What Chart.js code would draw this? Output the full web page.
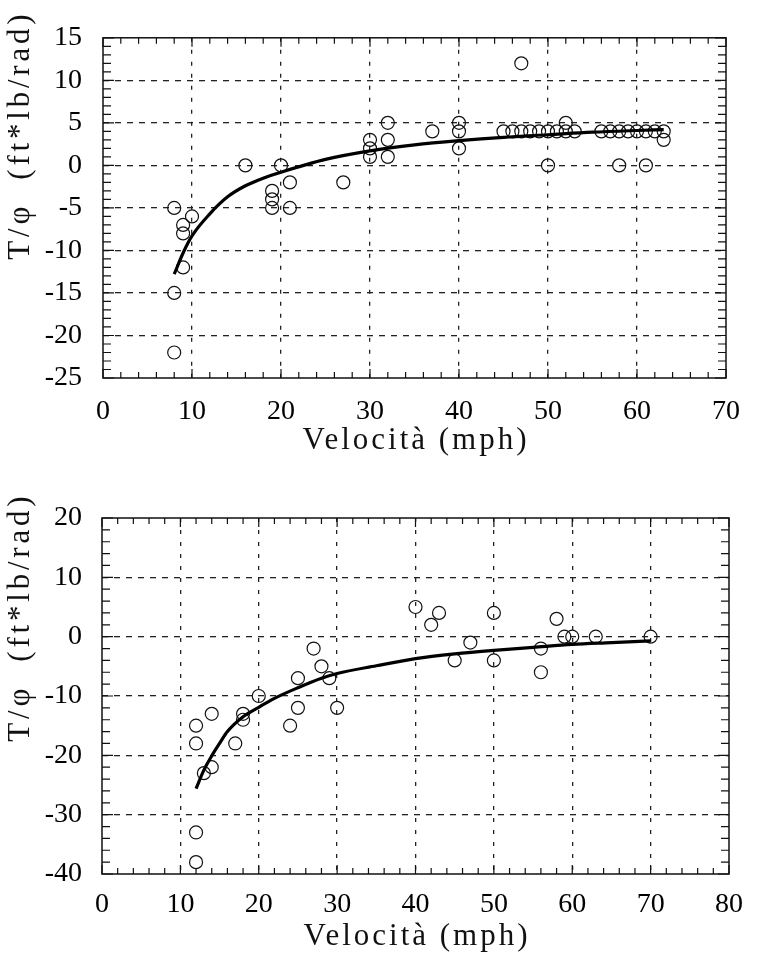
<!DOCTYPE html>
<html>
<head>
<meta charset="utf-8">
<script src="https://cdn.jsdelivr.net/npm/chart.js@4.4.1/dist/chart.umd.min.js"></script>
<style>
  html, body { margin: 0; padding: 0; background: #fff; }
  .box { position: absolute; left: 0; width: 757px; }
  #b1 { top: 0; height: 478px; }
  #b2 { top: 478px; height: 479px; }
</style>
</head>
<body>
<div class="box" id="b1"><canvas id="c1"></canvas></div>
<div class="box" id="b2"><canvas id="c2"></canvas></div>
<script>
// ---------- data: top chart ----------
const topPointsX = [8, 8, 8, 9, 9, 9, 10, 16, 19, 19, 19, 20, 21, 21, 27, 30, 30, 30, 32, 32, 32, 37, 40, 40, 40,
  45, 46, 47, 47, 48, 49, 50, 50, 51, 52, 52, 53, 56, 57, 58, 58, 59, 60, 61, 61, 62, 63, 63];
const topPointsY = [-5, -15, -22, -7, -8, -12, -6, 0, -3, -4, -5, 0, -2, -5, -2, 3, 2, 1, 5, 3, 1, 4, 5, 4, 2,
  4, 4, 4, 12, 4, 4, 4, 0, 4, 4, 5, 4, 4, 4, 4, 0, 4, 4, 4, 0, 4, 4, 3];
const topCurveX = [8, 9, 10, 12, 14, 16, 18, 20, 25, 30, 35, 40, 45, 50, 55, 60, 63];
const topCurveY = [-12.8, -10.3, -8.3, -5.7, -3.7, -2.4, -1.5, -0.8, 0.7, 1.7, 2.4, 2.9, 3.3, 3.6, 3.9, 4.1, 4.2];
const topXTicks = [0, 10, 20, 30, 40, 50, 60, 70];
const topYTicks = [-25, -20, -15, -10, -5, 0, 5, 10, 15];

// ---------- data: bottom chart ----------
const botPointsX = [12, 12, 12, 12, 13, 14, 14, 17, 18, 18, 20, 24, 25, 25, 27, 28, 29, 30,
  40, 42, 43, 45, 47, 50, 50, 56, 56, 58, 59, 60, 63, 70];
const botPointsY = [-15, -18, -33, -38, -23, -13, -22, -18, -13, -14, -10, -15, -7, -12, -2, -5, -7, -12,
  5, 2, 4, -4, -1, 4, -4, -2, -6, 3, 0, 0, 0, 0];
const botCurveX = [12, 13, 14, 15, 16, 18, 20, 22, 25, 28, 30, 35, 40, 45, 50, 55, 60, 65, 70];
const botCurveY = [-25.6, -22.5, -20.1, -18, -16, -13.5, -11.9, -10.4, -8.6, -7.0, -6.2, -4.9, -3.7, -2.9, -2.3, -1.8, -1.3, -1.0, -0.7];
const botXTicks = [0, 10, 20, 30, 40, 50, 60, 70, 80];
const botYTicks = [-40, -30, -20, -10, 0, 10, 20];

const xTitleText = 'Velocità (mph)';
const yTitleText = 'T/φ  (ft*lb/rad)';

const FONT = "'Liberation Serif', 'Times New Roman', serif";
const INK = '#111';

const zip = (xs, ys) => xs.map((x, i) => ({ x, y: ys[i] }));

const framePlugin = {
  id: 'frame',
  afterDraw(chart, args, o) {
    const { ctx, chartArea: a, scales } = chart;
    const sx = scales.x, sy = scales.y;
    ctx.save();
    ctx.strokeStyle = INK;
    ctx.lineWidth = 1.5;
    ctx.setLineDash([]);
    ctx.strokeRect(a.left, a.top, a.right - a.left, a.bottom - a.top);
    ctx.lineWidth = 1.2;
    const nx = Math.round((sx.max - sx.min) / o.xMinor);
    for (let i = 0; i <= nx; i++) {
      const v = sx.min + i * o.xMinor;
      const p = sx.getPixelForValue(v);
      const major = Math.abs(v / o.xMajor - Math.round(v / o.xMajor)) < 1e-6;
      const len = major ? o.majorLen : o.minorLen;
      ctx.beginPath();
      ctx.moveTo(p, a.bottom); ctx.lineTo(p, a.bottom - len);
      ctx.moveTo(p, a.top); ctx.lineTo(p, a.top + len);
      ctx.stroke();
    }
    const ny = Math.round((sy.max - sy.min) / o.yMinor);
    for (let i = 0; i <= ny; i++) {
      const v = sy.min + i * o.yMinor;
      const p = sy.getPixelForValue(v);
      const major = Math.abs(v / o.yMajor - Math.round(v / o.yMajor)) < 1e-6;
      const len = major ? o.majorLen + 2 : o.minorLen + 2;
      ctx.beginPath();
      ctx.moveTo(a.left, p); ctx.lineTo(a.left + len, p);
      ctx.moveTo(a.right, p); ctx.lineTo(a.right - len, p);
      ctx.stroke();
    }
    ctx.fillStyle = INK;
    ctx.font = o.titleSize + 'px ' + FONT;
    ctx.letterSpacing = o.xSpacing + 'px';
    ctx.textAlign = 'center';
    ctx.textBaseline = 'alphabetic';
    ctx.fillText(o.xTitle, (a.left + a.right) / 2 + o.xSpacing / 2, o.xTitleBaseline);
    ctx.letterSpacing = o.ySpacing + 'px';
    ctx.translate(o.yTitleBaselineX, o.yTitleCenterY);
    ctx.rotate(-Math.PI / 2);
    ctx.fillText(o.yTitle, o.ySpacing / 2, 0);
    ctx.restore();
  }
};

function makeChart(id, cfg) {
  return new Chart(document.getElementById(id), {
    type: 'scatter',
    data: {
      datasets: [
        {
          label: 'dati',
          data: zip(cfg.px, cfg.py),
          pointStyle: 'circle',
          pointRadius: 6.5,
          pointHoverRadius: 6.5,
          pointBorderWidth: 1.2,
          pointBackgroundColor: 'rgba(0,0,0,0)',
          pointBorderColor: INK,
          showLine: false,
          order: 2
        },
        {
          label: 'fit',
          data: zip(cfg.cx, cfg.cy),
          showLine: true,
          pointRadius: 0,
          borderColor: '#000',
          borderWidth: 3.2,
          cubicInterpolationMode: 'monotone',
          fill: false,
          order: 1
        }
      ]
    },
    options: {
      responsive: true,
      maintainAspectRatio: false,
      animation: false,
      events: [],
      layout: { padding: { top: cfg.padTop, right: cfg.padRight, left: 0, bottom: 0 } },
      plugins: {
        legend: { display: false },
        tooltip: { enabled: false },
        frame: {
          xMinor: 2, xMajor: 10, yMinor: cfg.yMinor, yMajor: cfg.yMajor,
          minorLen: 6, majorLen: 9,
          xTitle: xTitleText, yTitle: yTitleText,
          titleSize: 31, xSpacing: 3, ySpacing: 3.8,
          xTitleBaseline: cfg.xTitleBaseline,
          yTitleBaselineX: 29, yTitleCenterY: cfg.yTitleCenterY
        }
      },
      scales: {
        x: {
          type: 'linear',
          min: cfg.xTicks[0], max: cfg.xTicks[cfg.xTicks.length - 1],
          afterBuildTicks: (s) => { s.ticks = cfg.xTicks.map(v => ({ value: v })); },
          afterFit: (s) => { s.height = cfg.xAxisH; },
          grid: {
            color: (c) => (c.tick && (c.tick.value === cfg.xTicks[0] || c.tick.value === cfg.xTicks[cfg.xTicks.length - 1])) ? 'rgba(0,0,0,0)' : '#222',
            lineWidth: 1.3,
            drawTicks: false
          },
          border: { display: false, dash: [4, 8] },
          ticks: {
            color: '#000',
            font: { family: FONT, size: 28 },
            padding: cfg.xTickPad,
            maxRotation: 0,
            autoSkip: false
          }
        },
        y: {
          type: 'linear',
          min: cfg.yTicks[0], max: cfg.yTicks[cfg.yTicks.length - 1],
          afterBuildTicks: (s) => { s.ticks = cfg.yTicks.map(v => ({ value: v })); },
          afterFit: (s) => { s.width = cfg.yAxisW; },
          grid: {
            color: (c) => (c.tick && (c.tick.value === cfg.yTicks[0] || c.tick.value === cfg.yTicks[cfg.yTicks.length - 1])) ? 'rgba(0,0,0,0)' : '#222',
            lineWidth: 1.3,
            drawTicks: false
          },
          border: { display: false, dash: [6, 6] },
          ticks: {
            color: '#000',
            font: { family: FONT, size: 28 },
            padding: cfg.yTickPad,
            autoSkip: false
          }
        }
      }
    },
    plugins: [framePlugin]
  });
}

makeChart('c1', {
  px: topPointsX, py: topPointsY, cx: topCurveX, cy: topCurveY,
  xTicks: topXTicks, yTicks: topYTicks, yMinor: 1, yMajor: 5,
  padTop: 17, padRight: 14, xAxisH: 100, yAxisW: 103,
  xTickPad: 17, yTickPad: 21,
  xTitleBaseline: 449, yTitleCenterY: 137
});

makeChart('c2', {
  px: botPointsX, py: botPointsY, cx: botCurveX, cy: botCurveY,
  xTicks: botXTicks, yTicks: botYTicks, yMinor: 2, yMajor: 10,
  padTop: 40, padRight: 15, xAxisH: 83, yAxisW: 102,
  xTickPad: 14, yTickPad: 20,
  xTitleBaseline: 467, yTitleCenterY: 141
});
</script>
</body>
</html>
